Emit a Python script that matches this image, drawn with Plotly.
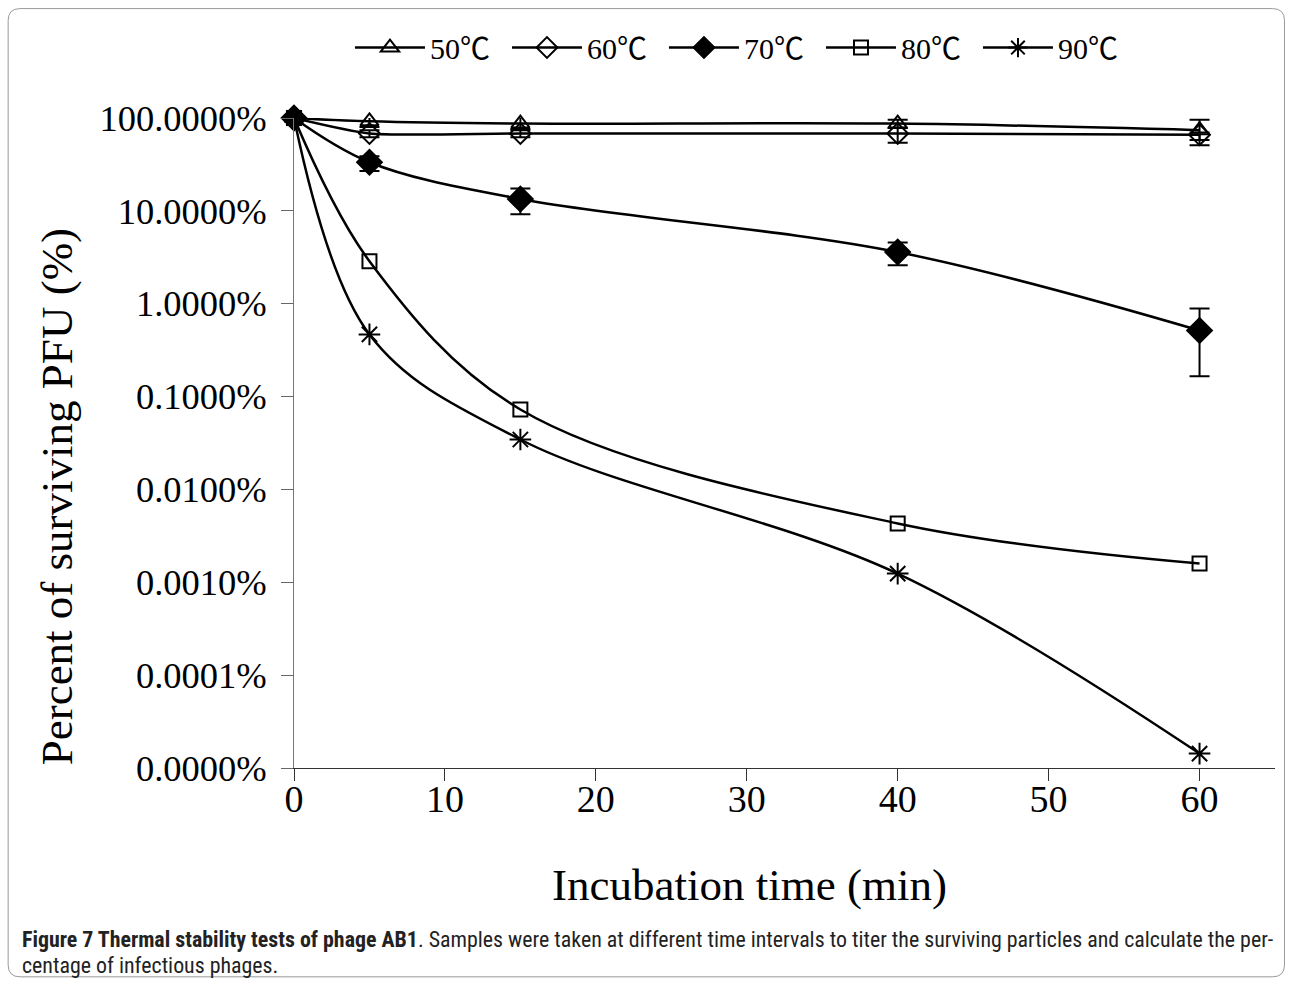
import plotly.graph_objects as go

# ---- data ----
times = [0, 5, 15, 40, 60]
series_temps = ["50", "60", "70", "80", "90"]
s50 = [100, 92, 87, 87, 74]
s50_hi = [100, 118, 104, 96, 96]
s50_lo = [100, 80, 76, 78, 58]
s60 = [100, 68, 68, 68, 66]
s60_hi = [100, 74, 74, 78, 70]
s60_lo = [100, 62, 62, 54, 51]
s70 = [100, 33.4, 13.4, 3.6, 0.515]
s70_hi = [100, 38.8, 17.4, 4.55, 0.89]
s70_lo = [100, 26.8, 9.2, 2.6, 0.166]
s80 = [100, 2.87, 0.0726, 0.0043, 0.00159]
s90 = [100, 0.467, 0.0345, 0.00124, 0.0000143]

y_tickvals = [1e-5, 1e-4, 1e-3, 1e-2, 1e-1, 1, 10, 100]
y_ticktext = ["0.0000%", "0.0001%", "0.0010%", "0.0100%", "0.1000%",
              "1.0000%", "10.0000%", "100.0000%"]
x_tickvals = [0, 10, 20, 30, 40, 50, 60]

SERIF = "Liberation Serif, Times New Roman, serif"
CJK = "Noto Sans CJK SC"

# pixel geometry helpers (layout only)
L, R, T, B = 294, 1275.5, 117.5, 768
W, H = 1292, 986


def px(x):
    return (x - L) / (R - L)


def py(y):
    return (B - y) / (B - T)


def err(vals, hi, lo):
    up = [h - v for h, v in zip(hi, vals)]
    dn = [v - l for l, v in zip(lo, vals)]
    return dict(type="data", symmetric=False, array=up, arrayminus=dn,
                color="black", thickness=2, width=10)


fig = go.Figure()
specs = [
    (s50, "triangle-up-open", 16, err(s50, s50_hi, s50_lo), 1.0),
    (s60, "diamond-open", 16, err(s60, s60_hi, s60_lo), 0.6),
    (s70, "diamond", 19, err(s70, s70_hi, s70_lo), 1.0),
    (s80, "square-open", 14, None, 1.0),
    (s90, "asterisk-open", 18, None, 1.0),
]
for temp, (vals, sym, size, e, sm) in zip(series_temps, specs):
    fig.add_trace(go.Scatter(
        x=times, y=vals,
        name=(f"<span style='font-family:Liberation Serif'>{temp}</span>"
              f"<span style='font-family:{CJK}'>℃</span>"),
        mode="lines+markers",
        line=dict(color="black", width=2.5, shape="spline", smoothing=sm),
        marker=dict(symbol=sym, size=size, color="black",
                    line=dict(color="black", width=2)),
        error_y=e, cliponaxis=False,
    ))

fig.update_layout(
    width=W, height=H,
    margin=dict(l=L, r=W - R, t=T, b=H - B, autoexpand=False),
    paper_bgcolor="white", plot_bgcolor="white",
    showlegend=True,
    legend=dict(orientation="h", x=px(350), xanchor="left",
                y=py(47), yanchor="middle",
                font=dict(family=SERIF, size=30, color="black"),
                itemwidth=70, entrywidth=72, entrywidthmode="pixels",
                tracegroupgap=0, bgcolor="rgba(0,0,0,0)"),
    xaxis=dict(range=[0, 65], tickvals=x_tickvals, ticks="outside",
               ticklen=12, tickcolor="#333", showline=True, linecolor="#333",
               linewidth=1, showgrid=False, zeroline=False,
               ticklabelstandoff=-15,
               tickfont=dict(family=SERIF, size=38, color="black")),
    yaxis=dict(type="log", range=[-5, 2], tickvals=y_tickvals,
               ticktext=y_ticktext, ticks="outside", ticklen=12,
               tickcolor="#666", showline=True, linecolor="#777",
               linewidth=1, showgrid=False, zeroline=False,
               ticklabelstandoff=7,
               tickfont=dict(family=SERIF, size=36.5, color="black")),
)

# axis titles
fig.add_annotation(xref="paper", yref="paper", x=px(750), y=py(885),
                   xanchor="center", yanchor="middle", showarrow=False,
                   text="Incubation time (min)",
                   font=dict(family=SERIF, size=45, color="black"))
fig.add_annotation(xref="paper", yref="paper", x=px(57), y=py(497),
                   xanchor="center", yanchor="middle", showarrow=False,
                   textangle=-90, text="Percent of surviving PFU (%)",
                   font=dict(family=SERIF, size=45, color="black"))

# caption
CAP = "Liberation Sans Narrow, Arial Narrow, Roboto Condensed, Roboto, sans-serif"
fig.add_annotation(
    xref="paper", yref="paper", x=px(20), y=py(940), xanchor="left",
    yanchor="middle", showarrow=False, align="left",
    text="<b>Figure 7 Thermal stability tests of phage AB1</b>. Samples were taken at different time intervals to titer the surviving particles and calculate the per-",
    font=dict(family=CAP, size=21.9, color="#222"))
fig.add_annotation(
    xref="paper", yref="paper", x=px(20), y=py(966), xanchor="left",
    yanchor="middle", showarrow=False, align="left",
    text="centage of infectious phages.",
    font=dict(family=CAP, size=21.9, color="#222"))

# rounded border around the figure
x0, y0, x1, y1, r = 8, 8, 1285, 977, 12
pts = [
    f"M {px(x0 + r)} {py(y0)}",
    f"L {px(x1 - r)} {py(y0)}",
    f"Q {px(x1)} {py(y0)} {px(x1)} {py(y0 + r)}",
    f"L {px(x1)} {py(y1 - r)}",
    f"Q {px(x1)} {py(y1)} {px(x1 - r)} {py(y1)}",
    f"L {px(x0 + r)} {py(y1)}",
    f"Q {px(x0)} {py(y1)} {px(x0)} {py(y1 - r)}",
    f"L {px(x0)} {py(y0 + r)}",
    f"Q {px(x0)} {py(y0)} {px(x0 + r)} {py(y0)} Z",
]
fig.add_shape(type="path", xref="paper", yref="paper", path=" ".join(pts),
              line=dict(color="#999", width=1), fillcolor="rgba(0,0,0,0)",
              layer="below")

fig.write_html("out.html")
